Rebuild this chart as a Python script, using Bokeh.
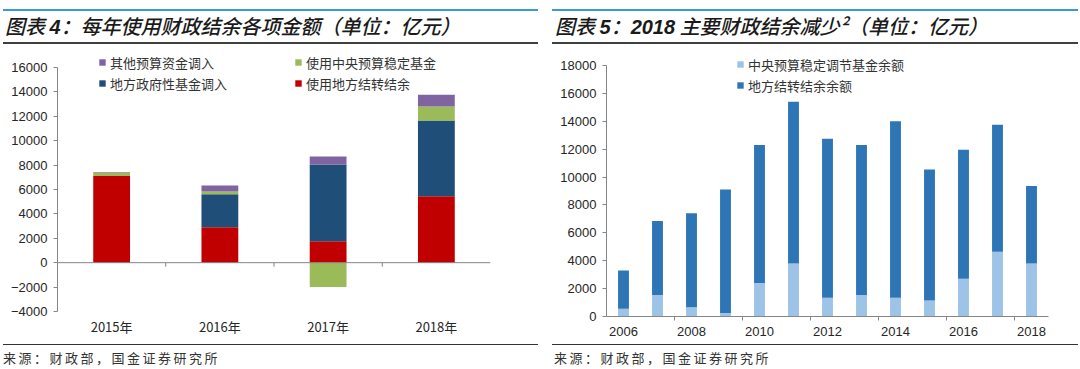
from bokeh.plotting import figure
from bokeh.models import Range1d, FixedTicker, Legend, LegendItem, Span, Div, Spacer
from bokeh.layouts import row, column
from bokeh.embed import file_html
from bokeh.resources import INLINE

# ---------------- data: left chart (图表4) ----------------
left_title_parts = [("图表 ", False), ("4", True), ("：每年使用财政结余各项金额（单位：亿元）", False)]
years_left = ["2015年", "2016年", "2017年", "2018年"]
local_carryover = [7100, 2900, 1750, 5450]      # 使用地方结转结余
gov_fund_transfer = [0, 2700, 6300, 6200]       # 地方政府性基金调入
central_stab_fund = [280, 230, -2000, 1150]     # 使用中央预算稳定基金
other_transfer = [40, 500, 650, 950]            # 其他预算资金调入
left_names = ["使用地方结转结余", "地方政府性基金调入", "使用中央预算稳定基金", "其他预算资金调入"]
left_yticks = [-4000, -2000, 0, 2000, 4000, 6000, 8000, 10000, 12000, 14000, 16000]

# ---------------- data: right chart (图表5) ----------------
right_title_parts = [("图表 ", False), ("5", True), ("：", False), ("2018", True),
                     (" 主要财政结余减少²（单位：亿元）", False)]
years_right = [2006, 2007, 2008, 2009, 2010, 2011, 2012, 2013, 2014, 2015, 2016, 2017, 2018]
year_labels_right = [2006, 2008, 2010, 2012, 2014, 2016, 2018]
central_balance = [550, 1550, 670, 250, 2400, 3800, 1350, 1550, 1350, 1150, 2700, 4650, 3800]   # 中央预算稳定调节基金余额
local_balance = [2750, 5300, 6730, 8850, 9900, 11600, 11400, 10750, 12650, 9400, 9250, 9100, 5550]  # 地方结转结余余额
right_names = ["中央预算稳定调节基金余额", "地方结转结余余额"]
right_yticks = [0, 2000, 4000, 6000, 8000, 10000, 12000, 14000, 16000, 18000]

source_text = "来源：财政部，国金证券研究所"

# ---------------- styles ----------------
FONT_NUM = "Liberation Sans"
FONT_CJK = "Noto Sans CJK SC"
AXIS_GREY = "#868686"
TEXT_COL = "#262626"
left_colors = ["#C00000", "#1F4E79", "#9BBB59", "#8064A2"]
right_colors = ["#9DC3E6", "#2E75B6"]


def style_axis(ax):
    ax.major_label_text_font = FONT_NUM
    ax.major_label_text_font_size = "13px"
    ax.major_label_text_color = TEXT_COL
    ax.axis_line_color = AXIS_GREY
    ax.major_tick_line_color = AXIS_GREY
    ax.minor_tick_line_color = None


def base_fig(w, h, mb):
    p = figure(width=w, height=h, output_backend="svg", toolbar_location=None,
               min_border_left=mb[0], min_border_right=mb[1],
               min_border_top=mb[2], min_border_bottom=mb[3])
    p.outline_line_color = None
    p.xgrid.grid_line_color = None
    p.ygrid.grid_line_color = None
    p.background_fill_color = "white"
    p.border_fill_color = "white"
    return p


def make_legend(items, loc, orientation, label_width=20, spacing=1):
    return Legend(items=items, location=loc, orientation=orientation,
                  label_width=label_width, spacing=spacing, padding=0, margin=0,
                  glyph_width=8, glyph_height=8, label_standoff=4, label_height=20,
                  label_text_font=FONT_CJK, label_text_font_size="13px",
                  label_text_color="#333333", background_fill_alpha=0,
                  border_line_alpha=0)


FIG_H = 300

# ---------------- left figure ----------------
L_W = 535
pL = base_fig(L_W, FIG_H, (54, 48, 7, 33))
pL.x_range = Range1d(0, len(years_left))
pL.y_range = Range1d(left_yticks[0], 17300)
xs = [i + 0.5 for i in range(len(years_left))]

series = [local_carryover, gov_fund_transfer, central_stab_fund, other_transfer]
pos = [0] * len(years_left)
neg = [0] * len(years_left)
rends = []
for vals, col in zip(series, left_colors):
    bottoms, tops = [], []
    for i, v in enumerate(vals):
        if v >= 0:
            bottoms.append(pos[i]); tops.append(pos[i] + v); pos[i] += v
        else:
            bottoms.append(neg[i] + v); tops.append(neg[i]); neg[i] += v
    r = pL.vbar(x=xs, bottom=bottoms, top=tops, width=0.34, fill_color=col, line_color=None)
    rends.append(r)

pL.add_layout(Span(location=0, dimension="width", line_color=AXIS_GREY, line_width=1))
bounds = list(range(1, len(years_left)))
pL.segment(x0=bounds, y0=[0] * len(bounds), x1=bounds, y1=[-330] * len(bounds),
           line_color=AXIS_GREY, line_width=1)

style_axis(pL.yaxis[0])
pL.yaxis.ticker = FixedTicker(ticks=left_yticks)
pL.yaxis.bounds = (left_yticks[0], left_yticks[-1])
pL.yaxis.major_tick_out = 4
pL.yaxis.major_tick_in = 0
pL.yaxis.major_label_standoff = 6

style_axis(pL.xaxis[0])
pL.xaxis.ticker = FixedTicker(ticks=xs)
pL.xaxis.major_label_overrides = {x: lab for x, lab in zip(xs, years_left)}
pL.xaxis.major_label_text_font = FONT_CJK
pL.xaxis.axis_line_color = None
pL.xaxis.major_tick_line_color = None
pL.xaxis.major_tick_out = 0
pL.xaxis.major_label_standoff = 5

leg1 = make_legend([LegendItem(label=left_names[3], renderers=[rends[3]]),
                    LegendItem(label=left_names[2], renderers=[rends[2]])],
                   (41, 239), "horizontal", label_width=172, spacing=12)
leg2 = make_legend([LegendItem(label=left_names[1], renderers=[rends[1]]),
                    LegendItem(label=left_names[0], renderers=[rends[0]])],
                   (41, 218), "horizontal", label_width=172, spacing=12)
pL.add_layout(leg1)
pL.add_layout(leg2)

# ---------------- right figure ----------------
R_W = 526
pR = base_fig(R_W, FIG_H, (54, 30, 9, 28))
pR.x_range = Range1d(years_right[0] - 0.5, years_right[-1] + 0.5)
pR.y_range = Range1d(right_yticks[0], 18860)
src = {"year": years_right, "central": central_balance, "local": local_balance}
rr = pR.vbar_stack(["central", "local"], x="year", width=0.32, color=right_colors,
                   line_color=None, source=src)

style_axis(pR.yaxis[0])
pR.yaxis.ticker = FixedTicker(ticks=right_yticks)
pR.yaxis.bounds = (right_yticks[0], right_yticks[-1])
pR.yaxis.major_tick_out = 4
pR.yaxis.major_tick_in = 0
pR.yaxis.major_label_standoff = 6

style_axis(pR.xaxis[0])
pR.xaxis.ticker = FixedTicker(ticks=year_labels_right,
                              minor_ticks=[y + 1.5 for y in year_labels_right[:-1]])
pR.xaxis.major_tick_line_color = None
pR.xaxis.major_tick_out = 0
pR.xaxis.minor_tick_line_color = AXIS_GREY
pR.xaxis.minor_tick_out = 4
pR.xaxis.minor_tick_in = 0
pR.xaxis.major_label_standoff = 6

legR = make_legend([LegendItem(label=right_names[0], renderers=[rr[0]]),
                    LegendItem(label=right_names[1], renderers=[rr[1]])],
                   (130, 221), "vertical", spacing=1)
pR.add_layout(legR)

# ---------------- titles / footers ----------------
TITLE_CSS = ("font-family:'Noto Sans CJK SC';font-size:20px;font-style:italic;"
             "font-weight:500;color:#1a1a1a;line-height:30px;white-space:nowrap;")
FOOT_CSS = ("font-family:'Noto Sans CJK SC';font-size:13px;color:#333333;"
            "letter-spacing:2.5px;line-height:18px;padding-top:4px;white-space:nowrap;")


def title_html(parts):
    out = []
    for txt, bold in parts:
        if bold:
            out.append(f'<span style="font-family:\'Liberation Sans\';font-weight:bold;">{txt}</span>')
        else:
            out.append(txt)
    return "".join(out)


def title_div(parts, w, pad):
    return Div(text=f'<div style="{TITLE_CSS}padding-left:{pad}px;">{title_html(parts)}</div>',
               width=w, height=35, margin=0,
               styles={"border-top": "2px solid #3A9AD9",
                       "border-bottom": "2px solid #404040",
                       "box-sizing": "border-box"})


def foot_div(text, w, pad):
    return Div(text=f'<div style="{FOOT_CSS}padding-left:{pad}px;">{text}</div>',
               width=w, height=23, margin=0,
               styles={"border-top": "1.5px solid #333333", "box-sizing": "border-box"})


left_col = column(Spacer(width=L_W, height=9), title_div(left_title_parts, L_W, 2), pL,
                  foot_div(source_text, L_W, 0), spacing=0)
right_col = column(Spacer(width=R_W, height=9), title_div(right_title_parts, R_W, 3), pR,
                   foot_div(source_text, R_W, 2), spacing=0)
layout = row(Spacer(width=3, height=10), left_col, Spacer(width=14, height=10), right_col,
             spacing=0)

open("out.html", "w").write(file_html(layout, INLINE))
